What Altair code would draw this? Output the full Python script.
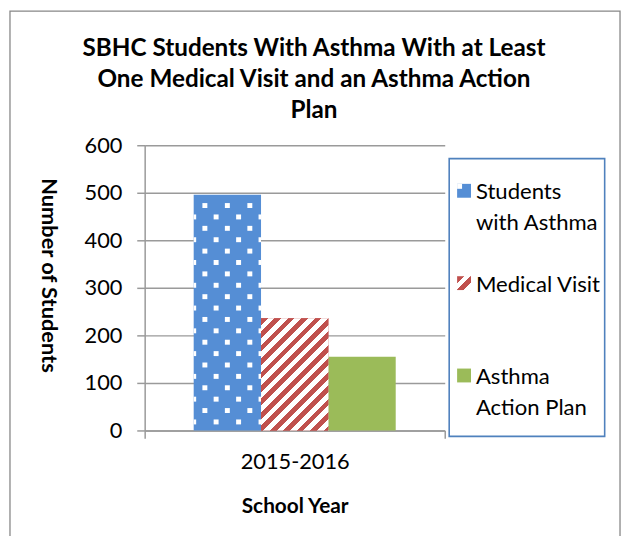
import math
import altair as alt
import pandas as pd

# ---- data ----
years = ["2015-2016"]
series = ["Students with Asthma", "Medical Visit", "Asthma Action Plan"]
counts = [496, 236, 155]
legend_lines = [["Students", "with Asthma"], ["Medical Visit"], ["Asthma", "Action Plan"]]
y_ticks = [0, 100, 200, 300, 400, 500, 600]
title_lines = ["SBHC Students With Asthma With at Least",
               "One Medical Visit and an Asthma Action",
               "Plan"]

# ---- style ----
colors = ["#558ED5", "#C0504D", "#9BBB59"]
FONT = "Lato"
GRID = "#9A9A9A"
W, H = 303, 288
STEP = 68
PO = (W / STEP - 3) / 2
YMAX = 600

df = pd.DataFrame({"year": years * 3, "series": series, "count": counts})


def stripe_gradient(w, h, period, c1, c2, frac=0.5):
    k = (w + h) / (w * w + h * h)
    p, q = k * w, k * h
    L = (w + h) / math.sqrt(2)
    n = L / period
    stops = []
    j = 0
    while j < n:
        a = j / n
        b = min((j + frac) / n, 1)
        c = min((j + 1) / n, 1)
        stops += [alt.GradientStop(offset=a, color=c1), alt.GradientStop(offset=b, color=c1),
                  alt.GradientStop(offset=b, color=c2), alt.GradientStop(offset=c, color=c2)]
        j += 1
    return alt.LinearGradient(gradient="linear", stops=stops, x1=0, y1=0, x2=p, y2=q)


x_enc = alt.X("year:N", title="School Year",
              scale=alt.Scale(paddingInner=0, paddingOuter=0),
              axis=alt.Axis(labelAngle=0, tickBand="extent", tickSize=8, tickColor=GRID,
                            tickWidth=1.5, domainColor=GRID, domainWidth=1.5,
                            labelFont=FONT, labelFontSize=22, labelColor="#000",
                            labelPadding=13, titleFont=FONT, titleFontSize=21,
                            titleFontWeight="bold", titleColor="#000",
                            titleBaseline="alphabetic", titleY=83, grid=False))
xo_enc = alt.XOffset("series:N", sort=series,
                     scale=alt.Scale(domain=series, paddingInner=0, paddingOuter=PO))
y_enc = alt.Y("count:Q", title="Number of Students",
              scale=alt.Scale(domain=[0, YMAX], nice=False),
              axis=alt.Axis(values=y_ticks, grid=True, gridColor=GRID, gridWidth=1.5,
                            tickSize=8, tickColor=GRID, tickWidth=1.5, domainColor=GRID,
                            domainWidth=1.5, labelFont=FONT, labelFontSize=22,
                            labelColor="#000", labelPadding=15, titleFont=FONT,
                            titleFontSize=22, titleFontWeight="bold", titleColor="#000",
                            titleAngle=90, titleX=-97, titleY=131, titleAlign="center",
                            titleBaseline="middle"))
color_enc = alt.Color("series:N", scale=alt.Scale(domain=series, range=colors), legend=None)

bars = alt.Chart(df).mark_bar().encode(x=x_enc, xOffset=xo_enc, y=y_enc, color=color_enc)

red_h = counts[1] * H / YMAX
stripes = alt.Chart(df).transform_filter(
    alt.datum.series == series[1]
).mark_bar(fill=stripe_gradient(STEP, red_h, 9.6, colors[1], "#FFFFFF")).encode(
    x=x_enc, xOffset=xo_enc, y=y_enc)

# dot texture on the first bar
dots_base = alt.Chart(alt.sequence(0, 20, as_="i")).transform_calculate(
    series="'" + series[0] + "'"
).transform_lookup(
    lookup="series", from_=alt.LookupData(data=df, key="series", fields=["count", "year"])
).transform_calculate(
    py="8.6 + 11.5 * datum.i", row="datum.i % 2"
).transform_calculate(
    yv="datum.py * %f / %f" % (YMAX, H)
).transform_filter(
    "datum.py + 2.5 <= datum.count * %f / %f" % (H, YMAX)
)
dot_layers = []
center = -STEP
for row, offs in [(1, [-22.7, 0, 22.7]), (0, [-11.35, 11.35])]:
    for o in offs:
        dot_layers.append(
            dots_base.transform_filter("datum.row == %d" % row).mark_square(
                size=25, color="#FFFFFF", opacity=1, xOffset=center + o
            ).encode(x=alt.X("year:N"), y=alt.Y("yv:Q")))
for o, shape in [(-STEP / 2, "M0,-1H1V1H0Z"), (STEP / 2, "M-1,-1H0V1H-1Z")]:
    dot_layers.append(
        dots_base.transform_filter("datum.row == 0").mark_point(
            shape=shape, size=25, filled=True, color="#FFFFFF", opacity=1, xOffset=center + o
        ).encode(x=alt.X("year:N"), y=alt.Y("yv:Q")))

one = alt.Data(values=[{"k": 1}])

# chart title (as text, three lines)
title_mark = alt.Chart(one).mark_text(
    align="center", baseline="top", font=FONT, fontSize=24.5, fontWeight="bold",
    lineHeight=31, color="#000"
).encode(x=alt.value(171), y=alt.value(-109), text=alt.value(title_lines))

# legend (drawn as marks)
LX0, LY0, LSTEP = 322.5, 46, 93.25
legend_layers = []
for i, (s, lines) in enumerate(zip(series, legend_lines)):
    cy = LY0 + i * LSTEP
    if i == 1:
        fill = stripe_gradient(14, 14, 9.6, colors[1], "#FFFFFF")
        legend_layers.append(alt.Chart(one).mark_square(size=196, fill=fill, opacity=1, strokeWidth=0)
                             .encode(x=alt.value(LX0), y=alt.value(cy)))
    else:
        legend_layers.append(alt.Chart(one).mark_square(size=196, color=colors[i], opacity=1)
                             .encode(x=alt.value(LX0), y=alt.value(cy)))
        if i == 0:
            legend_layers.append(alt.Chart(one).mark_square(size=25, color="#FFFFFF", opacity=1)
                                 .encode(x=alt.value(LX0 - 4.5), y=alt.value(cy - 4.5)))
    legend_layers.append(alt.Chart(one).mark_text(
        align="left", baseline="top", font=FONT, fontSize=22.3, lineHeight=31, color="#000"
    ).encode(x=alt.value(334.5), y=alt.value(cy - 9.5), text=alt.value(lines)))

legend_frame = alt.Chart(one).mark_rect(fillOpacity=0, stroke="#4F81BD", strokeWidth=1.6).encode(
    x=alt.value(307.5), x2=alt.value(464.5), y=alt.value(13.5), y2=alt.value(294))
outer_frame = alt.Chart(one).mark_rect(fillOpacity=0, stroke="#878787", strokeWidth=1.3).encode(
    x=alt.value(-136), x2=alt.value(480), y=alt.value(-135.5), y2=alt.value(420))

chart = alt.layer(
    outer_frame, bars, stripes, *dot_layers, legend_frame, *legend_layers, title_mark
).properties(
    width=W, height=H,
    autosize=alt.AutoSizeParams(type="none"),
    padding={"left": 138, "top": 136, "right": 179, "bottom": 104},
).configure_view(stroke=None)

chart.save("out.html", embed_options={"renderer": "svg", "actions": False})
